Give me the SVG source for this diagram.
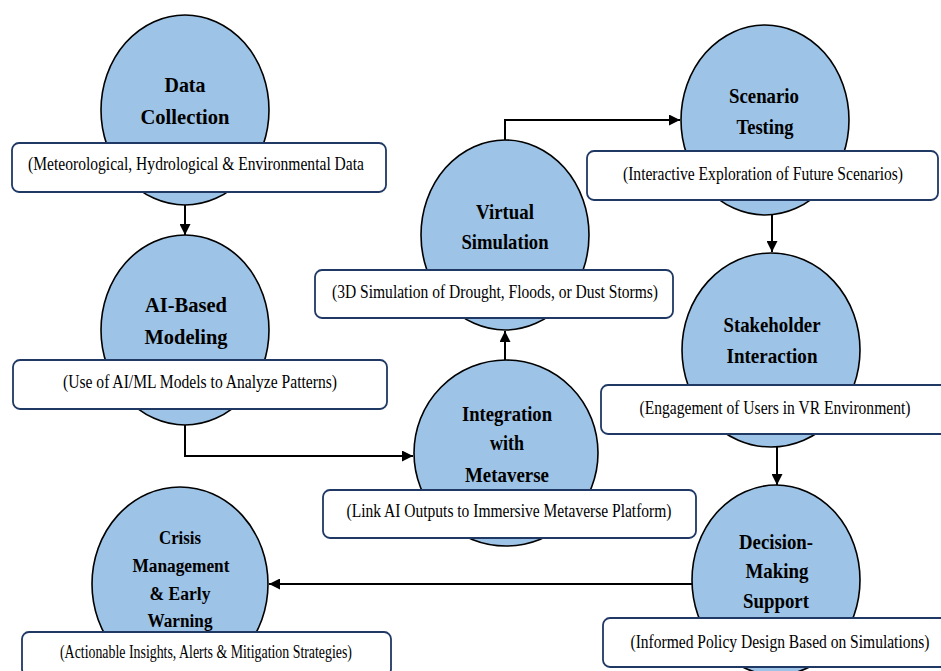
<svg xmlns="http://www.w3.org/2000/svg" width="941" height="671" viewBox="0 0 941 671">
<style>
.node ellipse{fill:#9DC3E6;stroke:#000;stroke-width:1.6}
.node rect{fill:#fff;stroke:#1F3864;stroke-width:1.8}
text{font-family:'Liberation Serif','Times New Roman',serif;fill:#000;text-anchor:middle}
.t{font-weight:bold;font-size:21px}
.ts{font-weight:bold;font-size:18px}
.d{font-size:18px}
.conn path{fill:none;stroke:#000;stroke-width:2}
</style>
<defs>
<marker id="ah" markerUnits="userSpaceOnUse" markerWidth="12" markerHeight="11" refX="11" refY="5.5" orient="auto">
<path d="M0,0 L11,5.5 L0,11 z" fill="#000"/>
</marker>
</defs>
<rect width="941" height="671" fill="#fff"/>
<g id="connectors" class="conn">
<path d="M185,205 V235" marker-end="url(#ah)"/>
<path d="M185,424 V456 H413" marker-end="url(#ah)"/>
<path d="M505,360 V331" marker-end="url(#ah)"/>
<path d="M505,140 V120 H680" marker-end="url(#ah)"/>
<path d="M772,215 V252" marker-end="url(#ah)"/>
<path d="M777,447 V485" marker-end="url(#ah)"/>
<path d="M692,584 H269" marker-end="url(#ah)"/>
</g>
<g id="data-collection" class="node">
<ellipse cx="185" cy="110" rx="84" ry="95"/>
<text class="t" x="185" y="92" textLength="41" lengthAdjust="spacingAndGlyphs">Data</text>
<text class="t" x="185" y="124" textLength="89" lengthAdjust="spacingAndGlyphs">Collection</text>
<rect x="12" y="143" width="374" height="49" rx="7"/>
<text class="d" x="196" y="170" textLength="336" lengthAdjust="spacingAndGlyphs">(Meteorological, Hydrological &amp; Environmental Data</text>
</g>
<g id="ai-modeling" class="node">
<ellipse cx="185" cy="330" rx="84" ry="95"/>
<text class="t" x="186" y="312" textLength="82" lengthAdjust="spacingAndGlyphs">AI-Based</text>
<text class="t" x="186" y="344" textLength="83" lengthAdjust="spacingAndGlyphs">Modeling</text>
<rect x="13" y="360" width="374" height="49" rx="7"/>
<text class="d" x="200" y="388" textLength="274" lengthAdjust="spacingAndGlyphs">(Use of AI/ML Models to Analyze Patterns)</text>
</g>
<g id="virtual-simulation" class="node">
<ellipse cx="505" cy="235" rx="84" ry="95"/>
<text class="t" x="505" y="219" textLength="58" lengthAdjust="spacingAndGlyphs">Virtual</text>
<text class="t" x="505" y="249" textLength="87" lengthAdjust="spacingAndGlyphs">Simulation</text>
<rect x="315" y="270" width="358" height="48" rx="7"/>
<text class="d" x="495" y="298" textLength="326" lengthAdjust="spacingAndGlyphs">(3D Simulation of Drought, Floods, or Dust Storms)</text>
</g>
<g id="scenario-testing" class="node">
<ellipse cx="765" cy="120" rx="84" ry="95"/>
<text class="t" x="764" y="103" textLength="70" lengthAdjust="spacingAndGlyphs">Scenario</text>
<text class="t" x="765" y="134" textLength="57" lengthAdjust="spacingAndGlyphs">Testing</text>
<rect x="587" y="151" width="351" height="49" rx="7"/>
<text class="d" x="763" y="180" textLength="280" lengthAdjust="spacingAndGlyphs">(Interactive Exploration of Future Scenarios)</text>
</g>
<g id="stakeholder-interaction" class="node">
<ellipse cx="771" cy="350" rx="89" ry="97"/>
<text class="t" x="772" y="332" textLength="97" lengthAdjust="spacingAndGlyphs">Stakeholder</text>
<text class="t" x="772" y="363" textLength="91" lengthAdjust="spacingAndGlyphs">Interaction</text>
<rect x="601" y="385" width="350" height="49" rx="7"/>
<text class="d" x="775" y="414" textLength="271" lengthAdjust="spacingAndGlyphs">(Engagement of Users in VR Environment)</text>
</g>
<g id="integration-metaverse" class="node">
<ellipse cx="506" cy="453" rx="92" ry="93"/>
<text class="t" x="507" y="421" textLength="90" lengthAdjust="spacingAndGlyphs">Integration</text>
<text class="t" x="507" y="450" textLength="34" lengthAdjust="spacingAndGlyphs">with</text>
<text class="t" x="507" y="482" textLength="84" lengthAdjust="spacingAndGlyphs">Metaverse</text>
<rect x="323" y="490" width="373" height="48" rx="7"/>
<text class="d" x="509" y="517" textLength="325" lengthAdjust="spacingAndGlyphs">(Link AI Outputs to Immersive Metaverse Platform)</text>
</g>
<g id="decision-support" class="node">
<ellipse cx="776" cy="580" rx="84" ry="95"/>
<text class="t" x="776" y="549" textLength="74" lengthAdjust="spacingAndGlyphs">Decision-</text>
<text class="t" x="777" y="578" textLength="63" lengthAdjust="spacingAndGlyphs">Making</text>
<text class="t" x="776" y="608" textLength="66" lengthAdjust="spacingAndGlyphs">Support</text>
<rect x="603" y="618" width="350" height="49" rx="7"/>
<text class="d" x="780" y="648" textLength="299" lengthAdjust="spacingAndGlyphs">(Informed Policy Design Based on Simulations)</text>
</g>
<g id="crisis-management" class="node">
<ellipse cx="180" cy="584" rx="88" ry="97"/>
<text class="ts" x="180" y="544" textLength="42" lengthAdjust="spacingAndGlyphs">Crisis</text>
<text class="ts" x="181" y="572" textLength="97" lengthAdjust="spacingAndGlyphs">Management</text>
<text class="ts" x="180" y="600" textLength="61" lengthAdjust="spacingAndGlyphs">&amp; Early</text>
<text class="ts" x="180" y="627" textLength="65" lengthAdjust="spacingAndGlyphs">Warning</text>
<rect x="22" y="632" width="369" height="44" rx="7"/>
<text class="d" x="206" y="658" textLength="292" lengthAdjust="spacingAndGlyphs">(Actionable Insights, Alerts &amp; Mitigation Strategies)</text>
</g>
</svg>
